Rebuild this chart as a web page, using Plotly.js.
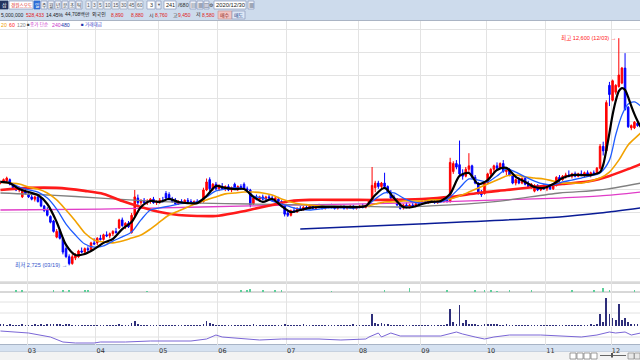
<!DOCTYPE html>
<html><head><meta charset="utf-8">
<script src="https://cdn.plot.ly/plotly-3.0.1.min.js"></script>
<style>html,body{margin:0;padding:0;background:#fff;overflow:hidden}#chart{width:640px;height:360px}</style>
</head><body><div id="chart"></div>
<script>
// ---- trading days (MM/DD, 2020) ----
const dates = ['02/18','02/19','02/20','02/21','02/24','02/25','02/26','02/27','02/28',
'03/02','03/03','03/04','03/05','03/06','03/09','03/10','03/11','03/12','03/13','03/16','03/17','03/18','03/19','03/20','03/23','03/24','03/25','03/26','03/27','03/30','03/31',
'04/01','04/02','04/03','04/06','04/07','04/08','04/09','04/10','04/13','04/14','04/16','04/17','04/20','04/21','04/22','04/23','04/24','04/27','04/28','04/29',
'05/04','05/06','05/07','05/08','05/11','05/12','05/13','05/14','05/15','05/18','05/19','05/20','05/21','05/22','05/25','05/26','05/27','05/28','05/29',
'06/01','06/02','06/03','06/04','06/05','06/08','06/09','06/10','06/11','06/12','06/15','06/16','06/17','06/18','06/19','06/22','06/23','06/24','06/25','06/26','06/29','06/30',
'07/01','07/02','07/03','07/06','07/07','07/08','07/09','07/10','07/13','07/14','07/15','07/16','07/17','07/20','07/21','07/22','07/23','07/24','07/27','07/28','07/29','07/30','07/31',
'08/03','08/04','08/05','08/06','08/07','08/10','08/11','08/12','08/13','08/14','08/18','08/19','08/20','08/21','08/24','08/25','08/26','08/27','08/28','08/31',
'09/01','09/02','09/03','09/04','09/07','09/08','09/09','09/10','09/11','09/14','09/15','09/16','09/17','09/18','09/21','09/22','09/23','09/24','09/25','09/28','09/29',
'10/05','10/06','10/07','10/08','10/12','10/13','10/14','10/15','10/16','10/19','10/20','10/21','10/22','10/23','10/26','10/27','10/28','10/29','10/30',
'11/02','11/03','11/04','11/05','11/06','11/09','11/10','11/11','11/12','11/13','11/16','11/17','11/18','11/19','11/20','11/23','11/24','11/25','11/26','11/27','11/30',
'12/01','12/02','12/03','12/04','12/07','12/08','12/09','12/10','12/11','12/14'];

const open = [6300,6350,6400,6450,6250,6100,6000,5700,5950,
5800,5700,5600,5700,5650,5300,5150,4850,4650,3950,4250,3900,3450,3100,2800,3050,3100,3350,3300,3450,3400,3700,
3700,3900,3850,4050,4000,4100,4200,4350,4700,4450,4550,4150,4900,5650,5450,5550,5450,5500,5600,5450,
5500,5550,5850,5800,5600,5550,5400,5500,5450,5550,5500,5450,5500,5450,5500,6000,6450,6050,6250,
6050,6150,6050,6150,6000,6250,6050,6150,6250,6050,6000,5400,5650,5600,5700,5600,5700,5650,5550,5600,5500,5300,
5000,4900,5100,5050,5200,5150,5250,5200,5300,5200,5250,5300,5200,5250,5300,5250,5200,5250,5300,5200,5250,5300,5200,
5250,5300,5250,5300,5550,6100,6300,6150,6300,6150,5900,5700,5600,5350,5250,5350,5250,5350,5300,5400,
5400,5500,5450,5550,5500,5450,5550,5500,5600,5500,6800,7150,7100,6700,6600,6900,7050,6550,6300,5850,5850,
6300,6700,6900,7050,6950,7150,6800,6900,6650,6300,6450,6300,6500,6250,6150,5950,6200,6000,6150,
6050,6150,6050,6200,6550,6450,6600,6650,6600,6700,6600,6700,6650,6750,6650,6750,6700,6950,7900,7700,10550,
9900,10250,10500,10650,11300,9600,8700,8700,8900,8800];
const high = [6400,6500,6580,6500,6300,6200,6150,6000,6050,
5900,5800,5750,5750,5700,5350,5250,4900,4700,4300,4300,3950,3550,3200,3200,3250,3400,3500,3500,3550,3750,3900,
3950,4050,4100,4200,4150,4250,4350,4750,4800,4600,4650,5000,6000,5800,5600,5650,5600,5650,5700,5550,
5650,5700,5950,5900,5700,5650,5550,5600,5600,5650,5600,5550,5600,5550,6100,6500,6550,6300,6350,
6250,6300,6200,6250,6150,6320,6200,6250,6330,6150,6050,5700,5800,5750,5800,5750,5800,5750,5700,5700,5550,5350,
5100,5150,5250,5250,5300,5300,5350,5350,5350,5300,5400,5350,5300,5350,5400,5350,5300,5350,5350,5300,5350,5350,5300,
5350,5400,5350,5600,7000,6400,6400,6350,6750,6200,6000,5800,5650,5450,5400,5450,5400,5450,5450,5500,
5550,5600,5600,5650,5600,5600,5650,5650,5700,7400,7250,7300,8150,6900,7000,7600,7100,6650,6350,6000,6350,
6750,6950,7100,7200,7200,7300,7000,6950,6700,6500,6550,6550,6550,6400,6300,6250,6250,6200,6250,
6200,6250,6250,6600,6650,6650,6750,6850,6750,6800,6750,6850,6800,6850,6800,6850,7000,8000,8100,9900,10700,
10800,10600,12600,11350,11950,9650,8850,9000,9000,8900];
const low = [6250,6300,6350,6200,6050,5950,5900,5650,5800,
5650,5550,5500,5450,5250,5050,4850,4550,4150,3900,3850,3200,3050,2725,2750,2950,3050,3250,3200,3300,3350,3600,
3600,3800,3800,3950,3900,4000,4100,4300,4400,4300,4350,4100,4850,5350,5350,5400,5350,5400,5400,5350,
5400,5450,5600,5550,5450,5350,5350,5400,5400,5450,5400,5350,5400,5400,5450,5950,5950,5950,6000,
5950,6000,5950,5950,5900,6000,5950,6000,6000,5900,5250,5350,5550,5500,5550,5550,5550,5500,5500,5450,5250,4850,
4830,4850,5000,5000,5100,5100,5150,5150,5150,5150,5200,5150,5150,5200,5200,5150,5150,5200,5150,5150,5200,5150,5150,
5200,5200,5200,5250,5500,5900,6050,6050,6100,5850,5600,5550,5300,5150,5150,5200,5200,5250,5250,5300,
5350,5400,5400,5450,5400,5400,5450,5450,5450,5450,6700,6900,6650,6450,6550,6750,6500,6250,5800,5700,5800,
6250,6600,6750,6850,6900,6750,6650,6600,6250,6200,6250,6250,6200,6100,6050,5900,5950,5950,6000,
5950,6000,6000,6150,6350,6400,6500,6550,6500,6550,6550,6600,6550,6600,6550,6650,6650,6900,7500,7600,9650,
9850,10150,10450,10600,9450,8700,8600,8650,8750,8700];
const close = [6350,6450,6520,6250,6100,6000,6100,5950,5850,
5700,5600,5700,5500,5300,5100,4900,4600,4200,4200,3900,3300,3100,2800,3100,3150,3350,3300,3450,3400,3700,3650,
3900,3850,4050,4000,4100,4200,4150,4700,4450,4550,4400,4900,5700,5450,5550,5450,5500,5600,5450,5500,
5550,5500,5650,5600,5500,5400,5500,5450,5550,5500,5450,5500,5450,5500,6000,6350,6050,6250,6050,
6150,6050,6150,6000,6100,6050,6150,6050,6050,6000,5350,5650,5600,5700,5600,5700,5650,5550,5650,5500,5300,4950,
4900,5100,5050,5200,5150,5250,5200,5300,5200,5250,5300,5200,5250,5300,5250,5200,5250,5300,5200,5250,5300,5200,5250,
5300,5250,5300,5550,6200,6300,6150,6300,6150,5900,5650,5600,5350,5200,5350,5250,5350,5300,5400,5350,
5500,5450,5550,5500,5450,5550,5500,5600,5500,7200,7150,7000,6700,6600,6900,7050,6550,6300,5850,5800,6300,
6700,6900,7050,6950,7150,6800,6900,6650,6300,6450,6300,6500,6250,6150,6250,6200,6000,6150,6050,
6150,6050,6200,6550,6450,6600,6650,6600,6700,6600,6700,6650,6750,6650,6750,6700,6950,7900,7700,9800,10150,
10750,10550,11000,11300,9500,8750,8800,8950,8800,8850];
const volume = [180,160,150,200,150,150,140,160,150,
150,140,160,150,170,150,180,160,170,160,180,150,160,170,150,140,150,140,130,140,150,130,
130,120,130,120,130,140,130,160,140,130,130,280,500,200,150,140,130,120,130,120,
120,110,150,130,120,110,110,120,110,110,110,120,110,150,220,480,260,160,140,
140,130,120,120,130,140,120,110,120,130,120,200,130,120,110,110,120,110,110,120,130,160,
150,140,130,130,120,220,120,110,110,110,120,110,110,120,110,110,110,120,130,110,120,250,130,
130,120,140,150,1200,300,200,350,200,180,150,140,130,130,120,120,130,140,120,130,
120,110,120,130,140,130,120,150,160,1700,400,200,2100,300,600,250,200,160,140,150,250,
200,180,160,200,150,140,160,130,140,130,120,130,120,120,110,120,110,120,110,
110,100,110,150,130,120,140,120,130,150,130,140,150,130,160,150,180,1200,400,2800,1200,
800,600,2200,600,800,400,250,200,200,180];

// moving averages (day index, price)
const ma5Idx = [0,3,6,9,12,15,18,21,24,27,30,33,36,39,42,45,48,51,54,57,60,63,66,69,72,75,78,81,84,87,90,93,96,99,102,105,108,111,114,117,120,123,126,129,132,135,138,141,144,147,150,153,156,159,162,165,168,171,174,177,180,183,186,189,192,193,194,195,196,197,198,199,200,201,202,203,204,205];
const ma5 = [6350,6300,6040,5910,5780,5390,4610,3610,3170,3220,3430,3700,3870,4300,4610,5260,5520,5480,5610,5480,5430,5430,5740,6170,6090,6040,6040,5700,5480,5610,5300,5040,5130,5220,5260,5260,5260,5260,5260,5300,5780,6090,5650,5260,5260,5390,5480,5520,5830,6610,6740,6260,6430,6870,6960,6570,6350,6130,6090,6260,6520,6650,6650,6650,6780,7090,7740,8480,9260,9870,10300,10430,10350,10040,9650,9300,9000,8740];
const ma10Idx = [0,3,6,9,12,15,18,21,24,27,30,33,36,39,42,45,48,51,54,57,60,63,66,69,72,75,78,81,84,87,90,93,96,99,102,105,108,111,114,117,120,123,126,129,132,135,138,141,144,147,150,153,156,159,162,165,168,171,174,177,180,183,186,189,192,195,197,199,201,203,205];
const ma10 = [6350,6300,6130,6000,5910,5650,5170,4520,4040,3650,3520,3570,3780,3960,4170,4700,5130,5220,5300,5390,5430,5480,5700,5960,6040,6090,6040,5740,5650,5520,5390,5260,5170,5130,5170,5220,5220,5220,5220,5300,5610,5870,5870,5650,5480,5430,5480,5480,5700,6090,6480,6430,6350,6610,6910,6780,6570,6390,6260,6220,6350,6430,6520,6610,6740,7300,8390,9260,9740,9830,9650];
const ma20Idx = [0,3,6,9,12,15,18,21,24,27,30,33,36,39,42,45,48,51,54,57,60,63,66,69,72,75,78,81,84,87,90,93,96,99,102,105,108,111,114,117,120,123,126,129,132,135,138,141,144,147,150,153,156,159,162,165,168,171,174,177,180,183,186,189,192,195,198,201,204,205];
const ma20 = [6350,6300,6260,6130,6040,5870,5570,5130,4650,4130,3830,3740,3700,3780,3910,4040,4300,4610,4910,5090,5260,5430,5570,5700,5830,5870,5910,5910,5870,5780,5610,5480,5390,5350,5300,5260,5260,5260,5260,5300,5390,5480,5480,5520,5520,5520,5570,5570,5610,5740,5910,6090,6260,6430,6610,6650,6570,6520,6480,6390,6300,6300,6300,6390,6520,6780,7300,7960,8350,8480];
const ma60Idx = [0,9,18,27,33,39,45,51,57,63,69,75,81,87,93,99,111,123,135,144,153,162,171,180,189,195,201,205];
const ma60 = [6000,6090,6090,5960,5830,5520,5260,5040,4910,4870,4870,5000,5170,5350,5520,5570,5570,5570,5610,5700,5870,6000,6130,6260,6390,6610,6910,7130];
const ma120Idx = [0,16,32,48,64,80,96,112,128,144,160,179,192,205];
const ma120 = [5870,5780,5650,5520,5430,5390,5350,5300,5260,5350,5520,5870,6000,6300];
const ma240Idx = [0,32,64,96,128,160,179,192,205];
const ma240 = [5130,5170,5260,5350,5430,5570,5650,5740,5910];
const ma480Idx = [96,134,179,192,205];
const ma480 = [4300,4520,4830,5000,5220];

// small indicator panels
const flowIdx = [5,7,17,20,22,27,28,47,77,79,80,84,88,90,106,123,131,143,152,155,157,159,163,170,183,190,193,195,203];
const flowVal = [25,25,20,20,25,25,25,15,20,25,30,20,20,20,15,25,40,25,25,20,25,15,25,20,25,20,45,20,25];
const oscIdx = [0,4,9,16,20,24,30,32,40,48,61,66,69,71,75,83,90,102,109,117,118,121,122,125,128,141,146,148,152,155,158,163,173,179,186,191,195,197,200,202,205];
const oscVal = [70,65,60,40,15,10,10,15,15,20,20,30,50,40,35,25,30,30,25,30,40,60,40,60,45,45,65,55,40,30,40,50,50,45,40,50,65,60,65,50,60];

// header texts
const rowDays = ['주','월','년','분','초','틱'];
const rowPeriods = ['1','3','5','10','15','30','45','60'];
const quoteTexts = ['5,000,000','528,433','14.45%','44,708백만','외국인','8,890','8,880','시','8,760','고','9,450','저','8,580'];
const legendTexts = ['20','60','120','■','종가 단순','240','480','■','거래대금'];

// ---- helpers ----
const W = 640, H = 360;
const KR = 'Noto Sans CJK KR, DejaVu Sans, sans-serif';
const NR = 'Liberation Sans, Arimo, Noto Sans CJK KR, sans-serif';
const px = x => x / W, py = y => 1 - y / H;
const idx = dates.map((d, i) => i);
const tickVals = [], tickText = [];
for (let i = 1; i < dates.length; i++) {
  if (dates[i].slice(0, 2) !== dates[i - 1].slice(0, 2)) { tickVals.push(i - 0.5); tickText.push(dates[i].slice(0, 2)); }
}
const fmt = v => v.toLocaleString('en-US');
const lowVal = Math.min(...low), lowI = low.indexOf(lowVal);
const highVal = Math.max(...high), highI = high.indexOf(highVal);

function rect(x0, y0, x1, y1, fill, line, layer) {
  return {type: 'rect', xref: 'paper', yref: 'paper', x0: px(x0), x1: px(x1), y0: py(y1), y1: py(y0),
    fillcolor: fill, line: {color: line || fill, width: line ? 0.7 : 0}, layer: layer || 'below'};
}
function hl(y, color) {
  return {type: 'line', xref: 'paper', yref: 'paper', x0: 0, x1: 1, y0: py(y), y1: py(y), line: {color, width: 1}, layer: 'below'};
}
function tx(x, y, text, color, size, fam, anchor) {
  return {xref: 'paper', yref: 'paper', x: px(x), y: py(y), text, showarrow: false, xanchor: anchor || 'left', yanchor: 'middle',
    font: {family: fam || NR, size: size || 5, color: color || '#222'}, borderpad: 0};
}

const periodBoxes = [[86,91],[92,97],[98,103],[104,111],[112,119],[120,127],[128,135],[136,143]];
const shapes = [
  rect(0, 0, 640, 20, '#cddbec'),
  hl(20.5, '#aab4c4'),
  hl(283, '#b0b0b0'), hl(292, '#b0b0b0'), hl(302, '#e2e2e2'), hl(313, '#e2e2e2'), hl(337, '#e2e2e2'),
  rect(0, 344.5, 640, 352, '#d6e2f1'),
  hl(344.5, '#a8b4c6'), hl(352, '#b8c0cc'),
  rect(0, 352, 640, 360, '#f3f3f3'),
  rect(0, 1, 8, 9, '#24335e', '#24335e'),
  rect(9, 1, 33, 9, '#ffffff', '#8a9abb'),
  rect(34, 1, 40, 9, '#2f6ed6', '#2f6ed6'),
  ...rowDays.map((t, j) => rect(41 + 7 * j, 1, 47 + 7 * j, 9, '#eef2f8', '#8a9abb')),
  ...periodBoxes.map(a => rect(a[0], 1, a[1], 9, '#eef2f8', '#9aa6bf')),
  rect(147, 1, 155, 9, '#ffffff', '#8a9abb'), rect(156, 1, 161, 9, '#eef2f8', '#8a9abb'),
  rect(164, 1, 176, 9, '#ffffff', '#8a9abb'),
  rect(190, 1, 196, 9, '#eef2f8', '#8a9abb'), rect(197, 1, 203, 9, '#eef2f8', '#8a9abb'), rect(204, 1, 209, 9, '#eef2f8', '#8a9abb'),
  rect(214, 1, 246, 9, '#ffffff', '#8a9abb'), rect(248, 1, 254, 9, '#eef2f8', '#8a9abb'),
  rect(218, 11, 232, 19, '#f2c4c2', '#c89a9a'), rect(232, 11, 245, 19, '#dde7f5', '#8a9abb'),
  rect(570, 353, 576, 359, '#ffffff', '#777'), rect(577, 353, 583, 359, '#ffffff', '#777'),
  rect(584, 353, 590, 359, '#ffffff', '#777'), rect(591, 353, 597, 359, '#ffffff', '#777'),
  {type: 'line', xref: 'paper', yref: 'paper', x0: px(600), x1: px(626), y0: py(355.5), y1: py(355.5), line: {color: '#666', width: 1}, layer: 'below'},
  rect(611, 353, 613, 357.5, '#555'),
  rect(628, 353, 634, 359, '#e8e8e8', '#888'), rect(634.5, 353, 640, 359, '#e8e8e8', '#888')
];

const quoteX = [0, 25, 45, 64, 91, 110, 130, 148, 154, 172, 177, 195, 201];
const quoteC = ['#222','#e02020','#222','#222','#222','#e02020','#e02020','#222','#e02020','#222','#e02020','#222','#e02020'];
const legX = [0, 8, 16, 26, 29, 51, 60, 80, 84];
const legC = ['#f0a000','#ff2020','#888','#444','#cc33cc','#cc33cc','#2233aa','#2233aa','#4444cc'];

const annotations = [
  tx(4, 5, '삼', '#ffffff', 5, KR, 'center'), tx(21, 5, '경원스오도', '#dd2020', 4.6, KR, 'center'), tx(37, 5, '일', '#ffffff', 5, KR, 'center'),
  ...rowDays.map((t, j) => tx(44 + 7 * j, 5, t, '#333', 4.8, KR, 'center')),
  ...rowPeriods.map((t, j) => tx((periodBoxes[j][0] + periodBoxes[j][1]) / 2, 5, t, '#555', 5, NR, 'center')),
  tx(151, 5, '3', '#333', 5.5, NR, 'center'), tx(158.5, 5, '▼', '#555', 4, NR, 'center'),
  tx(170, 5, '241', '#222', 5.5, NR, 'center'), tx(177, 5, '/680', '#333', 5.5),
  tx(193, 5, '▤', '#345', 5, NR, 'center'), tx(200, 5, '▦', '#345', 5, NR, 'center'), tx(206.5, 5, '▥', '#345', 5, NR, 'center'),
  tx(211.5, 5, '⚙', '#333', 5, NR, 'center'),
  tx(230, 5, '2020/12/30', '#222', 5.8, NR, 'center'), tx(251, 5, '▦', '#345', 5, NR, 'center'),
  ...quoteTexts.map((t, j) => tx(quoteX[j], 15, t, quoteC[j], 5)),
  tx(225, 15, '매수', '#8a1c1c', 5, KR, 'center'), tx(238.5, 15, '매도', '#1c3c8a', 5, KR, 'center'),
  ...legendTexts.map((t, j) => tx(legX[j], 25, t, legC[j], t === '■' ? 4.5 : (/[가-힣]/.test(t) ? 4.6 : 5.2))),
  {x: highI - 0.3, y: highVal, xref: 'x', yref: 'y', text: '최고 ' + fmt(highVal) + ' (' + dates[highI] + ') →', showarrow: false,
   xanchor: 'right', yanchor: 'middle', font: {family: NR, size: 5.6, color: '#ff2020'}},
  {x: lowI - 0.2, y: lowVal, xref: 'x', yref: 'y', text: '최저 ' + fmt(lowVal) + ' (' + dates[lowI] + ') →', showarrow: false,
   xanchor: 'right', yanchor: 'middle', font: {family: NR, size: 5.6, color: '#3355cc'}}
];

function ma(x, y, color, width) {
  return {type: 'scatter', mode: 'lines', x, y, xaxis: 'x', yaxis: 'y', line: {color, width, shape: 'spline', smoothing: 0.8}, hoverinfo: 'skip'};
}

const traces = [
  {type: 'candlestick', x: idx, open, high, low, close, xaxis: 'x', yaxis: 'y', whiskerwidth: 0,
   increasing: {line: {color: '#ff0000', width: 1}, fillcolor: '#ff0000'},
   decreasing: {line: {color: '#0000ff', width: 1}, fillcolor: '#0000ff'}, hoverinfo: 'skip'},
  ma(ma480Idx, ma480, '#0a1c96', 1.5),
  ma(ma240Idx, ma240, '#e03cc8', 1.3),
  ma(ma120Idx, ma120, '#808080', 1.3),
  ma(ma60Idx, ma60, '#ff1a1a', 2.6),
  ma(ma20Idx, ma20, '#f2a200', 1.6),
  ma(ma10Idx, ma10, '#1f5cff', 1.3),
  ma(ma5Idx, ma5, '#000000', 2.2),
  {type: 'bar', x: idx, y: volume, xaxis: 'x', yaxis: 'y2', marker: {color: '#2e2e7a'}, width: 0.55, hoverinfo: 'skip'},
  {type: 'bar', x: flowIdx, y: flowVal, xaxis: 'x', yaxis: 'y3', marker: {color: '#5ccf9a'}, width: 0.55, hoverinfo: 'skip'},
  {type: 'scatter', mode: 'lines', x: oscIdx, y: oscVal, xaxis: 'x', yaxis: 'y4', line: {color: '#7a66d6', width: 1}, hoverinfo: 'skip'}
];

const x0 = tickVals[0] - 27 / 3.123;
const layout = {
  width: W, height: H, margin: {l: 0, r: 0, t: 0, b: 0}, paper_bgcolor: '#ffffff', plot_bgcolor: 'rgba(0,0,0,0)',
  showlegend: false, hovermode: false, bargap: 0,
  xaxis: {range: [x0, x0 + W / 3.123], tickmode: 'array', tickvals: tickVals, ticktext: tickText, anchor: 'y4',
    showgrid: true, gridcolor: '#e3e3e3', gridwidth: 1, zeroline: false, showline: false, ticks: '',
    tickfont: {family: 'DejaVu Sans', size: 6.5, color: '#333'}, ticklabelshift: 5, ticklabelstandoff: 0,
    rangeslider: {visible: false}, fixedrange: true},
  yaxis: {domain: [py(283), py(21)], range: [1956, 13348], tick0: 0, dtick: 1000, showgrid: true, gridcolor: '#e3e3e3',
    showticklabels: false, zeroline: false, ticks: '', fixedrange: true},
  yaxis2: {domain: [py(326), py(292)], range: [0, 3400], showgrid: false, showticklabels: false, zeroline: false, fixedrange: true},
  yaxis3: {domain: [py(292), py(283)], range: [0, 90], showgrid: false, showticklabels: false, zeroline: false, fixedrange: true},
  yaxis4: {domain: [py(345), py(327)], range: [0, 90], showgrid: false, showticklabels: false, zeroline: false, fixedrange: true},
  shapes, annotations
};

Plotly.newPlot('chart', traces, layout, {staticPlot: true, displayModeBar: false});
</script></body></html>
